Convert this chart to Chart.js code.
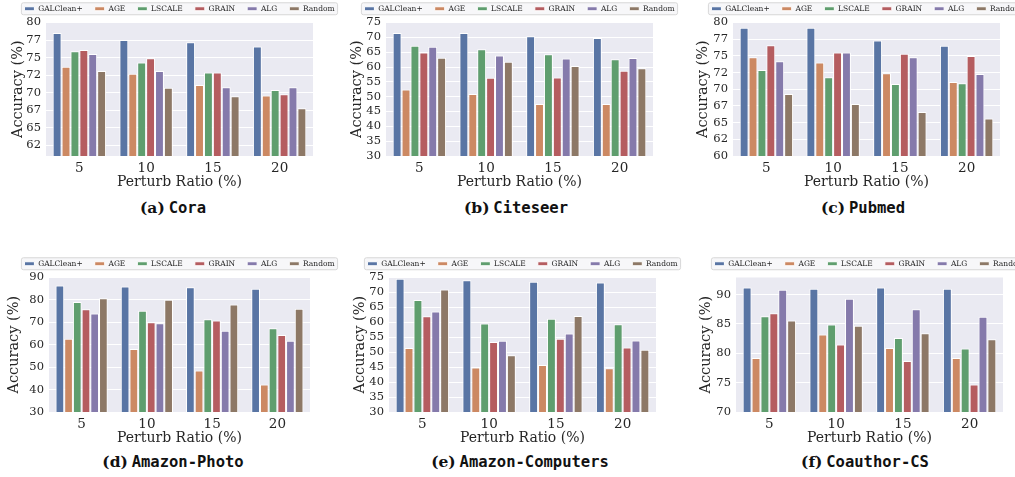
<!DOCTYPE html>
<html>
<head>
<meta charset="utf-8">
<script src="https://cdn.jsdelivr.net/npm/chart.js@4.4.1/dist/chart.umd.min.js"></script>
<style>
html,body{margin:0;padding:0;background:#fff;}
body{width:1015px;height:477px;overflow:hidden;position:relative;}
canvas{position:absolute;}
.cap{position:absolute;transform:translate(-50%,-50%);white-space:nowrap;font-size:15.5px;color:#111;line-height:1;}
.cap .l{font-family:"DejaVu Serif",serif;font-weight:bold;}
.cap .n{font-family:"DejaVu Sans Mono",monospace;font-weight:bold;}
</style>
</head>
<body>
<canvas id="c0"></canvas>
<canvas id="c1"></canvas>
<canvas id="c2"></canvas>
<canvas id="c3"></canvas>
<canvas id="c4"></canvas>
<canvas id="c5"></canvas>
<div class="cap" style="left:173px;top:208px"><span class="l">(a)</span> <span class="n">Cora</span></div>
<div class="cap" style="left:516px;top:208px"><span class="l">(b)</span> <span class="n">Citeseer</span></div>
<div class="cap" style="left:863px;top:208px"><span class="l">(c)</span> <span class="n">Pubmed</span></div>
<div class="cap" style="left:173px;top:462px"><span class="l">(d)</span> <span class="n">Amazon-Photo</span></div>
<div class="cap" style="left:520px;top:462px"><span class="l">(e)</span> <span class="n">Amazon-Computers</span></div>
<div class="cap" style="left:865px;top:462px"><span class="l">(f)</span> <span class="n">Coauthor-CS</span></div>
<script>
// ---------- data ----------
const methods = ['GALClean+', 'AGE', 'LSCALE', 'GRAIN', 'ALG', 'Random'];
const perturbRatios = ['5', '10', '15', '20'];

// Cora
const coraGALClean = [78.5, 77.5, 77.2, 76.6];
const coraAGE      = [73.7, 72.7, 71.1, 69.6];
const coraLSCALE   = [75.9, 74.3, 72.9, 70.4];
const coraGRAIN    = [76.1, 74.9, 72.9, 69.8];
const coraALG      = [75.5, 73.1, 70.8, 70.8];
const coraRandom   = [73.1, 70.7, 69.5, 67.8];
const coraTicks    = [62.5, 65, 67.5, 70, 72.5, 75, 77.5, 80];
const coraRange    = [61, 80];

// Citeseer
const citeseerGALClean = [71.5, 71.5, 70.4, 69.8];
const citeseerAGE      = [52.4, 50.9, 47.5, 47.5];
const citeseerLSCALE   = [67.2, 66.0, 64.3, 62.6];
const citeseerGRAIN    = [64.9, 56.4, 56.5, 58.7];
const citeseerALG      = [66.8, 63.9, 62.9, 63.0];
const citeseerRandom   = [63.1, 61.8, 60.3, 59.6];
const citeseerTicks    = [30, 35, 40, 45, 50, 55, 60, 65, 70, 75];
const citeseerRange    = [30, 75];

// Pubmed
const pubmedGALClean = [79.2, 79.2, 77.3, 76.5];
const pubmedAGE      = [74.8, 74.0, 72.4, 71.1];
const pubmedLSCALE   = [72.9, 71.8, 70.8, 70.9];
const pubmedGRAIN    = [76.6, 75.5, 75.3, 75.0];
const pubmedALG      = [74.2, 75.5, 74.8, 72.3];
const pubmedRandom   = [69.3, 67.8, 66.6, 65.6];
const pubmedTicks    = [60, 62.5, 65, 67.5, 70, 72.5, 75, 77.5, 80];
const pubmedRange    = [60, 80];

// Amazon-Photo
const photoGALClean = [86.4, 86.0, 85.7, 85.0];
const photoAGE      = [62.7, 58.1, 48.5, 42.3];
const photoLSCALE   = [79.1, 75.2, 71.4, 67.4];
const photoGRAIN    = [75.8, 70.0, 70.8, 64.4];
const photoALG      = [73.9, 69.6, 66.2, 61.8];
const photoRandom   = [80.7, 80.1, 77.9, 76.1];
const photoTicks    = [30, 40, 50, 60, 70, 80, 90];
const photoRange    = [30, 90];

// Amazon-Computers
const computersGALClean = [74.6, 74.1, 73.6, 73.3];
const computersAGE      = [51.4, 44.9, 45.7, 44.6];
const computersLSCALE   = [67.5, 59.6, 61.2, 59.4];
const computersGRAIN    = [62.0, 53.4, 54.5, 51.6];
const computersALG      = [63.6, 53.8, 56.3, 53.9];
const computersRandom   = [71.0, 49.0, 62.1, 50.8];
const computersTicks    = [30, 35, 40, 45, 50, 55, 60, 65, 70, 75];
const computersRange    = [30, 75];

// Coauthor-CS
const csGALClean = [91.2, 91.0, 91.2, 91.0];
const csAGE      = [79.2, 83.2, 80.9, 79.2];
const csLSCALE   = [86.3, 84.9, 82.6, 80.8];
const csGRAIN    = [86.8, 81.5, 78.7, 74.7];
const csALG      = [90.8, 89.3, 87.5, 86.2];
const csRandom   = [85.6, 84.7, 83.4, 82.4];
const csTicks    = [70, 75, 80, 85, 90];
const csRange    = [70, 92.9];

// ---------- style ----------
const colors = ['#5975a4', '#cc8963', '#5f9e6e', '#b55d60', '#857aab', '#8d7866'];
const SERIF = '"DejaVu Serif", serif';
const TXT = '#262626';

const bgPlugin = {
  id: 'bgArea',
  beforeDraw(chart) {
    const {ctx, chartArea: a} = chart;
    ctx.save();
    ctx.fillStyle = '#eaeaf2';
    ctx.fillRect(a.left, a.top, a.right - a.left, a.bottom - a.top);
    // legend frame
    const lg = chart.legend;
    if (lg && lg.lineWidths) {
      const pad = lg.options.labels.padding;
      const fs = lg.options.labels.font.size;
      const lw = lg.lineWidths[0];
      const x0 = (lg.left + pad + lg.right - lw) / 2;
      const x1 = x0 + lw - pad;
      const yc = lg.top + pad + fs / 2;
      ctx.beginPath();
      const L = x0 - 3, R = x1 + 3, T = yc - 6, B = yc + 6, r = 2;
      ctx.moveTo(L + r, T); ctx.lineTo(R - r, T); ctx.quadraticCurveTo(R, T, R, T + r);
      ctx.lineTo(R, B - r); ctx.quadraticCurveTo(R, B, R - r, B);
      ctx.lineTo(L + r, B); ctx.quadraticCurveTo(L, B, L, B - r);
      ctx.lineTo(L, T + r); ctx.quadraticCurveTo(L, T, L + r, T);
      ctx.closePath();
      ctx.fillStyle = '#f7f7f9';
      ctx.fill();
      ctx.strokeStyle = '#cfcfcf';
      ctx.lineWidth = 0.8;
      ctx.stroke();
    }
    ctx.restore();
  }
};

function makeChart(id, geo, series, ticks, range) {
  const cv = document.getElementById(id);
  cv.width = geo.w; cv.height = geo.h;
  cv.style.left = geo.x + 'px'; cv.style.top = geo.y + 'px';
  cv.style.width = geo.w + 'px'; cv.style.height = geo.h + 'px';
  return new Chart(cv, {
    type: 'bar',
    data: {
      labels: perturbRatios,
      datasets: series.map((vals, i) => ({
        label: methods[i],
        data: vals,
        backgroundColor: colors[i],
        borderColor: '#ffffff',
        borderWidth: 1,
        categoryPercentage: 0.8,
        barPercentage: 1.0
      }))
    },
    options: {
      responsive: false,
      devicePixelRatio: 1,
      animation: false,
      layout: {padding: 0},
      plugins: {
        tooltip: {enabled: false},
        legend: {
          position: 'top',
          labels: {
            font: {family: SERIF, size: 7.5},
            color: TXT,
            boxWidth: 10,
            boxHeight: 4,
            padding: 12
          }
        }
      },
      scales: {
        x: {
          grid: {display: false, drawTicks: false},
          border: {display: false},
          ticks: {font: {family: SERIF, size: 13.5}, color: TXT, padding: 4},
          title: {display: true, text: 'Perturb Ratio (%)', font: {family: SERIF, size: 14}, color: TXT, padding: {top: 0, bottom: 1}},
          afterFit(s) { s.height = 36; }
        },
        y: {
          min: range[0],
          max: range[1],
          grid: {color: '#ffffff', lineWidth: 1, drawTicks: false},
          border: {display: false},
          afterBuildTicks(s) { s.ticks = ticks.map(v => ({value: v})); },
          ticks: {autoSkip: false, font: {family: SERIF, size: 11.5}, color: TXT, padding: 5, callback: v => String(Math.trunc(v))},
          title: {display: true, text: 'Accuracy (%)', font: {family: SERIF, size: 14.5}, color: TXT, padding: {top: 0, bottom: 0}},
          afterFit(s) { s.width = geo.yw; }
        },
        yR: {
          position: 'right',
          min: 0, max: 1,
          grid: {display: false, drawTicks: false},
          border: {display: false},
          ticks: {display: false},
          afterFit(s) { s.width = geo.yw; }
        }
      }
    },
    plugins: [bgPlugin]
  });
}

makeChart('c0', {x: 10, y: -7, w: 339, h: 199, yw: 36},
  [coraGALClean, coraAGE, coraLSCALE, coraGRAIN, coraALG, coraRandom], coraTicks, coraRange);
makeChart('c1', {x: 349, y: -7, w: 341, h: 199, yw: 37},
  [citeseerGALClean, citeseerAGE, citeseerLSCALE, citeseerGRAIN, citeseerALG, citeseerRandom], citeseerTicks, citeseerRange);
makeChart('c2', {x: 695, y: -7, w: 343, h: 199, yw: 38},
  [pubmedGALClean, pubmedAGE, pubmedLSCALE, pubmedGRAIN, pubmedALG, pubmedRandom], pubmedTicks, pubmedRange);
makeChart('c3', {x: 6, y: 248, w: 347, h: 200, yw: 43},
  [photoGALClean, photoAGE, photoLSCALE, photoGRAIN, photoALG, photoRandom], photoTicks, photoRange);
makeChart('c4', {x: 352, y: 248, w: 341, h: 200, yw: 37},
  [computersGALClean, computersAGE, computersLSCALE, computersGRAIN, computersALG, computersRandom], computersTicks, computersRange);
makeChart('c5', {x: 698, y: 248, w: 343, h: 200, yw: 38},
  [csGALClean, csAGE, csLSCALE, csGRAIN, csALG, csRandom], csTicks, csRange);
</script>
</body>
</html>
